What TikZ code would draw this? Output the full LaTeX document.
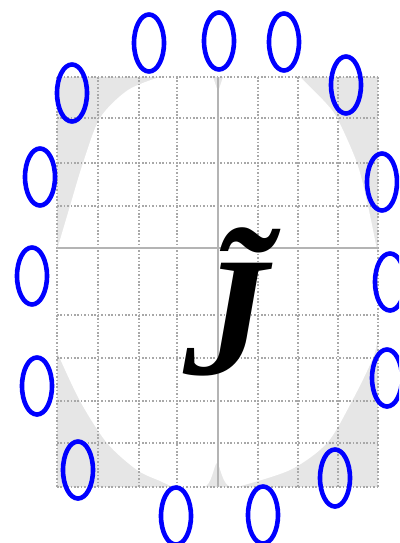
\documentclass[tikz,border=0pt]{standalone}
\usepackage{fontspec}
\setmainfont{Liberation Serif}
\usepackage{tikz}
\usetikzlibrary{shapes.geometric, positioning}
\definecolor{ringBlue}{HTML}{0000FF}
\definecolor{maskGray}{HTML}{E6E6E6}
\definecolor{gridGray}{HTML}{A8A8A8}
\definecolor{axisGray}{HTML}{B4B4B4}

\begin{document}
\begin{tikzpicture}[
    x=1pt, y=-1pt,
    ring/.style={draw=ringBlue, ellipse, line width=4.6pt,
                 minimum width=30pt, minimum height=57pt, inner sep=0pt},
    gridline/.style={draw=gridGray, line width=1.8pt,
                     dash pattern=on 1.6pt off 1.8pt},
    axisline/.style={draw=axisGray, line width=1.4pt},
    symbol/.style={font=\fontsize{170}{170}\selectfont\bfseries\itshape,
                   inner sep=0pt},
]
\clip (0,0) rectangle (399,543);
\fill[white] (0,0) rectangle (399,543);

% grey corners outside the aperture
\fill[maskGray] (57,77) rectangle (378,487);
\fill[white] (160,77) -- (213,77) -- (218,92) -- (223,77) -- (300,77)
    -- plot[smooth] coordinates {(300,77) (323,100) (337,118) (357,163)
                                 (368,206) (378,255)}
    -- (378,337)
    -- plot[smooth] coordinates {(378,337) (373,358) (352,401) (327,443)
                                 (290,470) (237,487)}
    -- (232,487) .. controls (222,487) and (220,463) .. (217,463)
    .. controls (214,463) and (212,487) .. (203,487) -- (173,487)
    -- plot[smooth] coordinates {(173,487) (160,481) (137,470) (107,443)
                                 (80,401) (57,352)}
    -- (57,250)
    -- plot[smooth] coordinates {(57,250) (70,206) (83,163) (100,118)
                                 (128,90) (160,77)}
    -- cycle;

% grid
\foreach \gx in {57,98,139,177,258,298,338,378}
    \draw[gridline] (\gx,77) -- (\gx,487);
\foreach \gy in {77,118,163,206,315,358,401,443,487}
    \draw[gridline] (57,\gy) -- (378,\gy);
\draw[axisline] (218,77) -- (218,487);
\draw[axisline] (57,248) -- (378,248);

\node[symbol] (jtilde) at (226,302) {\~{J}};

\foreach \name/\cx/\cy in {t1/149/43, t2/219/41, t3/284/42,
                           l1/72/93, l2/40/177, l3/32/276, l4/37/386, l5/78/470,
                           r1/346/85, r2/382/182, r3/390/282, r4/387/378, r5/335/478,
                           b1/176/516, b2/263/515}
    \node[ring] (\name) at (\cx,\cy) {};
\end{tikzpicture}
\end{document}
